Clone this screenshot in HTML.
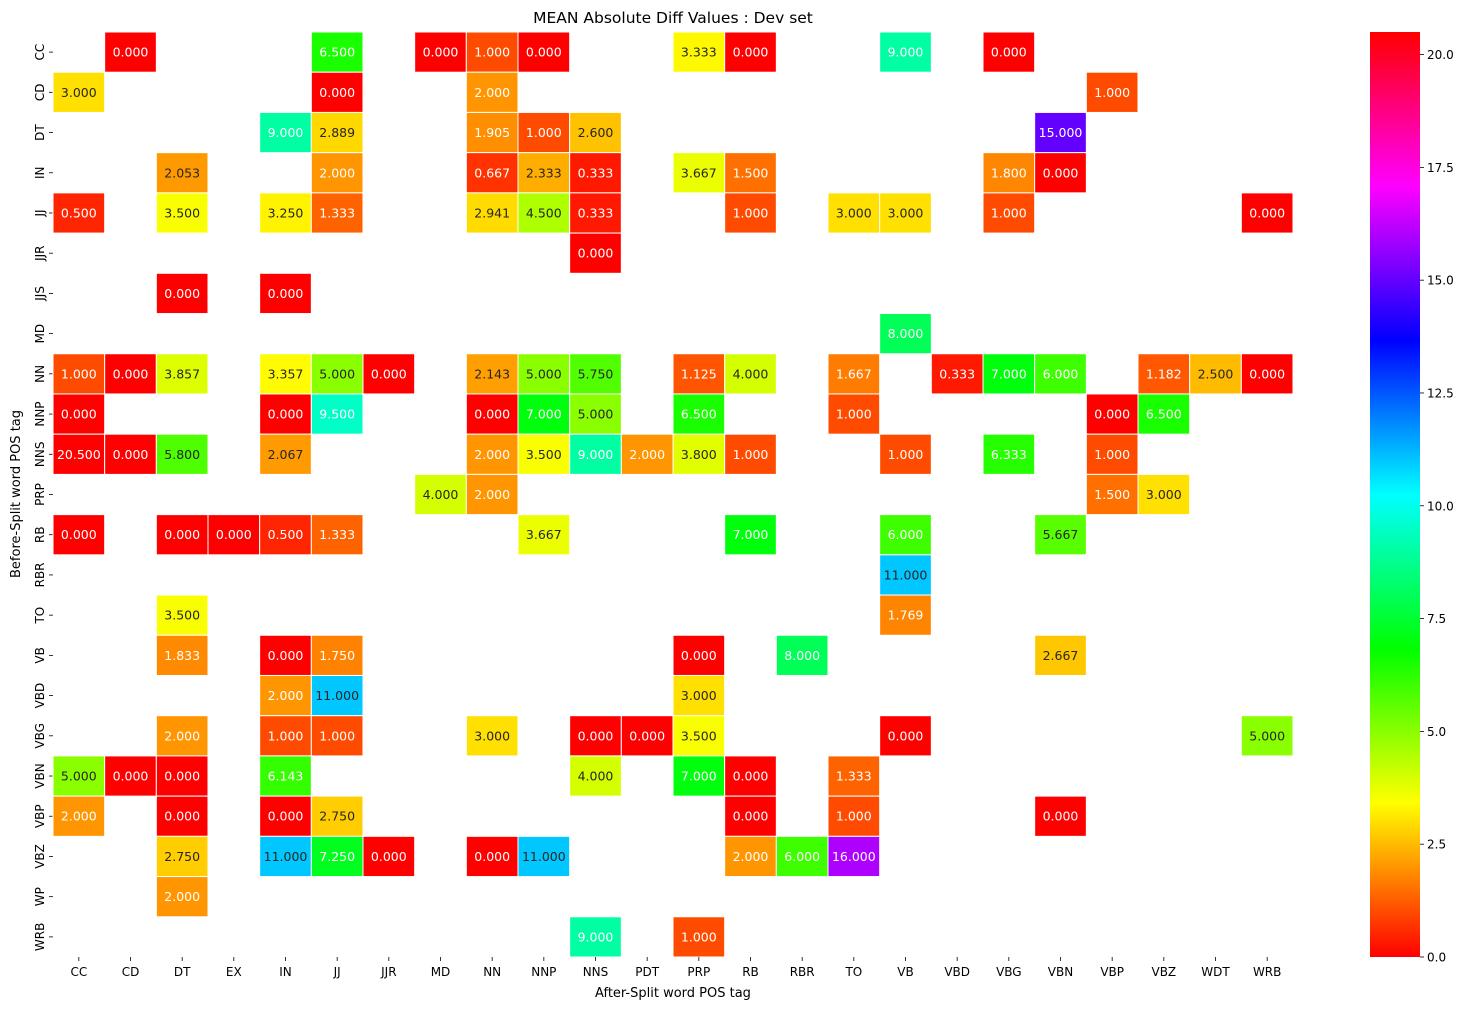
<!DOCTYPE html>
<html><head><meta charset="utf-8"><style>
body{margin:0;background:#fff;}
svg{display:block;font-family:"DejaVu Sans","Liberation Sans",sans-serif;}
</style></head><body>
<svg id="s" width="1467" height="1009" xmlns="http://www.w3.org/2000/svg">
<defs><linearGradient id="cb" x1="0" y1="1" x2="0" y2="0">
<stop offset="0" stop-color="hsl(0,100%,50%)"/>
<stop offset="0.1667" stop-color="hsl(60,100%,50%)"/>
<stop offset="0.3333" stop-color="hsl(120,100%,50%)"/>
<stop offset="0.5" stop-color="hsl(180,100%,50%)"/>
<stop offset="0.6667" stop-color="hsl(240,100%,50%)"/>
<stop offset="0.8333" stop-color="hsl(300,100%,50%)"/>
<stop offset="1" stop-color="hsl(360,100%,50%)"/>
</linearGradient></defs>
<text x="673" y="23" font-size="15.5" text-anchor="middle" fill="#000">MEAN Absolute Diff Values : Dev set</text>
<text x="673" y="997" font-size="13" text-anchor="middle" fill="#000">After-Split word POS tag</text>
<text transform="translate(20,494) rotate(-90)" font-size="13" text-anchor="middle" fill="#000">Before-Split word POS tag</text>
<rect x="1370" y="32" width="50" height="925" fill="url(#cb)"/>
<g id="g"></g>
</svg>
<script>
const cols="CC CD DT EX IN JJ JJR MD NN NNP NNS PDT PRP RB RBR TO VB VBD VBG VBN VBP VBZ WDT WRB".split(" ");
const rows="CC CD DT IN JJ JJR JJS MD NN NNP NNS PRP RB RBR TO VB VBD VBG VBN VBP VBZ WP WRB".split(" ");
const D={
CC:{CD:0,JJ:6.5,MD:0,NN:1,NNP:0,PRP:3.333,RB:0,VB:9,VBG:0},
CD:{CC:3,JJ:0,NN:2,VBP:1},
DT:{IN:9,JJ:2.889,NN:1.905,NNP:1,NNS:2.6,VBN:15},
IN:{DT:2.053,JJ:2,NN:.667,NNP:2.333,NNS:.333,PRP:3.667,RB:1.5,VBG:1.8,VBN:0},
JJ:{CC:.5,DT:3.5,IN:3.25,JJ:1.333,NN:2.941,NNP:4.5,NNS:.333,RB:1,TO:3,VB:3,VBG:1,WRB:0},
JJR:{NNS:0},
JJS:{DT:0,IN:0},
MD:{VB:8},
NN:{CC:1,CD:0,DT:3.857,IN:3.357,JJ:5,JJR:0,NN:2.143,NNP:5,NNS:5.75,PRP:1.125,RB:4,TO:1.667,VBD:.333,VBG:7,VBN:6,VBZ:1.182,WDT:2.5,WRB:0},
NNP:{CC:0,IN:0,JJ:9.5,NN:0,NNP:7,NNS:5,PRP:6.5,TO:1,VBP:0,VBZ:6.5},
NNS:{CC:20.5,CD:0,DT:5.8,IN:2.067,NN:2,NNP:3.5,NNS:9,PDT:2,PRP:3.8,RB:1,VB:1,VBG:6.333,VBP:1},
PRP:{MD:4,NN:2,VBP:1.5,VBZ:3},
RB:{CC:0,DT:0,EX:0,IN:.5,JJ:1.333,NNP:3.667,RB:7,VB:6,VBN:5.667},
RBR:{VB:11},
TO:{DT:3.5,VB:1.769},
VB:{DT:1.833,IN:0,JJ:1.75,PRP:0,RBR:8,VBN:2.667},
VBD:{IN:2,JJ:11,PRP:3},
VBG:{DT:2,IN:1,JJ:1,NN:3,NNS:0,PDT:0,PRP:3.5,VB:0,WRB:5},
VBN:{CC:5,CD:0,DT:0,IN:6.143,NNS:4,PRP:7,RB:0,TO:1.333},
VBP:{CC:2,DT:0,IN:0,JJ:2.75,RB:0,TO:1,VBN:0},
VBZ:{DT:2.75,IN:11,JJ:7.25,JJR:0,NN:0,NNP:11,RB:2,RBR:6,TO:16},
WP:{DT:2},
WRB:{NNS:9,PRP:1}};
const X0=53,Y0=32,W=1240/24,H=925/23;
let h="";
rows.forEach((r,i)=>{
 const y=Y0+i*H;
 h+=`<line x1="${X0-4}" y1="${y+H/2}" x2="${X0}" y2="${y+H/2}" stroke="#000" stroke-width="0.8"/>`;
 h+=`<text transform="translate(${X0-9},${y+H/2}) rotate(-90)" font-size="12" text-anchor="middle" fill="#000">${r}</text>`;
 cols.forEach((c,j)=>{
  const v=(D[r]||{})[c]; if(v===undefined)return;
  const x=X0+j*W;
  const hue=v/20.5*360;
  h+=`<rect x="${x}" y="${y}" width="${W}" height="${H}" fill="hsl(${hue},100%,50%)" stroke="#fff" stroke-width="1"/>`;
  const blk=(v>2.05&&v<5.9)||(v>10&&v<13);
  h+=`<text x="${x+W/2}" y="${y+H/2+4.5}" font-size="12.5" text-anchor="middle" fill="${blk?'#262626':'#fff'}">${v.toFixed(3)}</text>`;
 });
});
cols.forEach((c,j)=>{
 const x=X0+j*W+W/2;
 h+=`<line x1="${x}" y1="957" x2="${x}" y2="961" stroke="#000" stroke-width="0.8"/>`;
 h+=`<text x="${x}" y="976" font-size="12" text-anchor="middle" fill="#000">${c}</text>`;
});
for(let v=0;v<=20;v+=2.5){
 const y=957-v/20.5*925;
 h+=`<line x1="1420" y1="${y}" x2="1424" y2="${y}" stroke="#000" stroke-width="0.8"/>`;
 h+=`<text x="1427" y="${y+4.5}" font-size="12" fill="#000">${v.toFixed(1)}</text>`;
}
document.getElementById("g").innerHTML=h;
</script>
</body></html>
